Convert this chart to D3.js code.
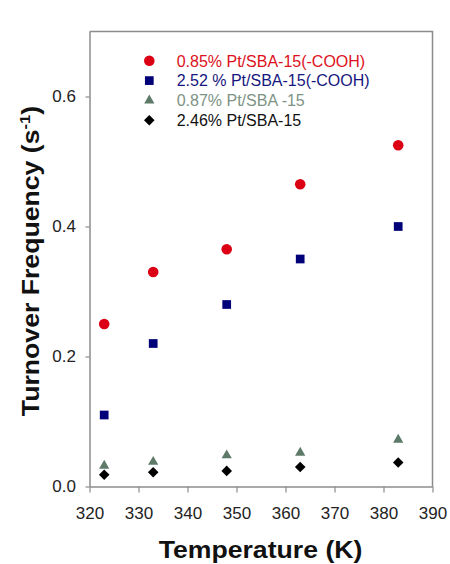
<!DOCTYPE html>
<html><head><meta charset="utf-8">
<script src="https://cdn.jsdelivr.net/npm/d3@7"></script>
<style>body{margin:0;background:#fff;} svg{display:block;}</style>
</head><body>
<script>
const temps = [323, 333, 348, 363, 383];
const seriesNames = ["0.85% Pt/SBA-15(-COOH)", "2.52 % Pt/SBA-15(-COOH)", "0.87% Pt/SBA -15", "2.46% Pt/SBA-15"];
const red = [0.25, 0.33, 0.365, 0.465, 0.525];
const blue = [0.11, 0.22, 0.28, 0.35, 0.40];
const green = [0.032, 0.038, 0.048, 0.052, 0.072];
const black = [0.018, 0.022, 0.024, 0.030, 0.037];
const xTicks = [320, 330, 340, 350, 360, 370, 380, 390];
const yTicks = [0.0, 0.2, 0.4, 0.6];

const W = 450, H = 564;
const svg = d3.select("body").append("svg").attr("width", W).attr("height", H)
  .style("font-family", "Arial, 'Liberation Sans', sans-serif");
svg.append("rect").attr("width", W).attr("height", H).attr("fill", "#fff");

const x = d3.scaleLinear().domain([320, 390]).range([89.5, 432.5]);
const y = d3.scaleLinear().domain([0, 0.7]).range([486.5, 31.5]);
const axisColor = "#8c8c8c";

// frame top/right
svg.append("path").attr("d", `M${x(320)},${y(0.7)}H${x(390)}V${y(0)}`)
  .attr("fill", "none").attr("stroke", axisColor).attr("stroke-width", 1.5);

const gx = svg.append("g").attr("transform", `translate(0,${y(0)})`)
  .call(d3.axisBottom(x).tickValues(xTicks).tickSize(6).tickPadding(14.8).tickSizeOuter(0).tickFormat(d3.format("d")));
const gy = svg.append("g").attr("transform", `translate(${x(320)},0)`)
  .call(d3.axisLeft(y).tickValues(yTicks).tickSize(4).tickPadding(9.5).tickSizeOuter(0).tickFormat(d3.format(".1f")));
[gx, gy].forEach(g => {
  g.select(".domain").attr("stroke", axisColor).attr("stroke-width", 1.5);
  g.selectAll(".tick line").attr("stroke", axisColor).attr("stroke-width", 1.2);
  g.selectAll(".tick text").attr("fill", "#222").style("font-size", "17px")
    .style("font-family", "Arial, 'Liberation Sans', sans-serif");
});

// titles
svg.append("text").attr("transform", "translate(260.5,558.3) scale(1.11,1)")
  .attr("text-anchor", "middle").style("font-size", "24px").style("font-weight", "bold")
  .attr("fill", "#111").text("Temperature (K)");
const yt = svg.append("text").attr("transform", "translate(38.5,261) rotate(-90) scale(1.11,1)")
  .attr("text-anchor", "middle").style("font-size", "24px").style("font-weight", "bold").attr("fill", "#111");
yt.append("tspan").text("Turnover Frequency (s");
yt.append("tspan").attr("dy", "-9").style("font-size", "15px").text("-1");
yt.append("tspan").attr("dy", "9").text(")");

// series
const series = [
  {vals: red, color: "#dc0015", text: "#dc1020", sym: d3.symbolCircle, size: 88, rot: 0},
  {vals: blue, color: "#000078", text: "#16167e", sym: d3.symbolSquare, size: 76, rot: 0},
  {vals: green, color: "#5d7a69", text: "#7d9384", sym: d3.symbolTriangle, size: 45, rot: 0},
  {vals: black, color: "#000", text: "#111", sym: d3.symbolSquare, size: 56, rot: 45}
];
series.forEach(s => {
  const path = d3.symbol().type(s.sym).size(s.size)();
  svg.append("g").selectAll("path").data(s.vals).join("path")
    .attr("d", path).attr("fill", s.color)
    .attr("transform", (d, i) => `translate(${x(temps[i])},${y(d)}) rotate(${s.rot})`);
});

// legend
const legY = [60.7, 80.6, 100.5, 120.3];
series.forEach((s, i) => {
  const path = d3.symbol().type(s.sym).size(s.size)();
  svg.append("path").attr("d", path).attr("fill", s.color)
    .attr("transform", `translate(149.3,${legY[i]}) rotate(${s.rot})`);
  svg.append("text").attr("x", 176.7).attr("y", legY[i] + 5.8)
    .style("font-size", "16px").attr("fill", s.text).text(seriesNames[i]);
});
</script>
</body></html>
